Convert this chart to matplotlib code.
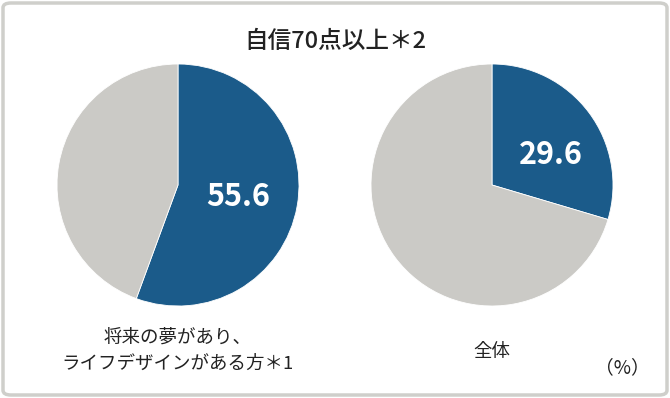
import matplotlib
matplotlib.use("Agg")
import matplotlib.pyplot as plt
from matplotlib.patches import FancyBboxPatch

plt.rcParams['font.family'] = ['Noto Sans CJK JP', 'DejaVu Sans']

# data
title = "自信70点以上＊2"
groups = ["将来の夢があり、\nライフデザインがある方＊1", "全体"]
shares = [55.6, 29.6]
blue = "#1b5b8a"
grey = "#cbcac6"

W, H = 670, 398
fig = plt.figure(figsize=(W / 100, H / 100), dpi=100)

# rounded frame
frame = FancyBboxPatch((3 / W, 3 / H), 1 - 6 / W, 1 - 6 / H,
                       boxstyle="round,pad=0,rounding_size=0.012",
                       transform=fig.transFigure, facecolor="none",
                       edgecolor="#cfcfcb", linewidth=2.5, zorder=5)
fig.patches.append(frame)

fig.text(0.5, 1 - 41 / H, title, ha="center", va="center",
         fontsize=17, fontweight="medium", color="#222222")

centers = [(178, 185), (492, 185)]
radius = 121
label_pos = [(0.5, -0.1), (0.49, 0.25)]
name_pos = [(178, 351), (492, 352)]

for i in range(2):
    cx, cy = centers[i]
    ax = fig.add_axes([(cx - radius) / W, (H - cy - radius) / H,
                       2 * radius / W, 2 * radius / H])
    ax.pie([shares[i], 100 - shares[i]], colors=[blue, grey],
           startangle=90, counterclock=False,
           wedgeprops=dict(edgecolor="white", linewidth=0.6))
    ax.set_xlim(-1, 1)
    ax.set_ylim(-1, 1)
    ax.set_aspect("auto")
    ax.axis("off")
    ax.text(label_pos[i][0], label_pos[i][1], f"{shares[i]:.1f}",
            ha="center", va="center", color="white",
            fontsize=22, fontweight="bold")
    fig.text(name_pos[i][0] / W, 1 - name_pos[i][1] / H, groups[i],
             ha="center", va="center", fontsize=13.3, color="#222222",
             linespacing=1.6)

fig.text(622 / W, 1 - 368 / H, "（%）", ha="center", va="center",
         fontsize=13.5, color="#222222")

fig.savefig("out.png", dpi=100)
